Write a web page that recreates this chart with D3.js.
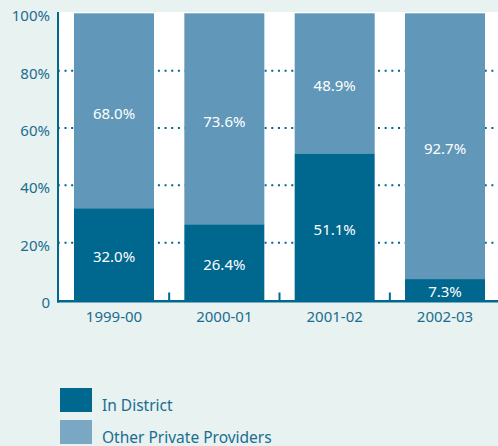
<!DOCTYPE html>
<html>
<head>
<meta charset="utf-8">
<script src="https://cdn.jsdelivr.net/npm/d3@7"></script>
<style>
  body { margin: 0; background: #e8f2f0; }
  svg { display: block; font-family: "Noto Sans", sans-serif; }
</style>
</head>
<body>
<svg id="chart" width="498" height="446"></svg>
<script>
// values
var years = ["1999-00", "2000-01", "2001-02", "2002-03"];
var inDistrict = [32.0, 26.4, 51.1, 7.3];
var otherPrivate = [68.0, 73.6, 48.9, 92.7];
var yTicks = [0, 20, 40, 60, 80, 100];
var seriesNames = ["In District", "Other Private Providers"];

var dark = "#00678f", light = "#6198b9", legendLight = "#79a7c4", ink = "#1a6d90";

var svg = d3.select("#chart");

var x = d3.scaleBand()
  .domain(years)
  .range([58, 501])
  .paddingInner(0.275)
  .paddingOuter(0.145);

var y = d3.scaleLinear()
  .domain([0, 100])
  .range([300, 13.3]);

// white plot area
svg.append("rect")
  .attr("x", 58).attr("y", 12)
  .attr("width", 440).attr("height", 288)
  .attr("fill", "#fff");

// dotted grid lines
svg.append("g")
  .selectAll("line")
  .data(yTicks.filter(function (d) { return d > 0 && d < 100; }))
  .enter().append("line")
    .attr("x1", 58).attr("x2", 498)
    .attr("y1", function (d) { return y(d); })
    .attr("y2", function (d) { return y(d); })
    .attr("stroke", dark)
    .attr("stroke-width", 2)
    .attr("stroke-dasharray", "2 4.67")
    .attr("stroke-dashoffset", -6.5);

var rows = years.map(function (yr, i) {
  return { year: yr, a: inDistrict[i], b: otherPrivate[i] };
});

var bar = svg.append("g").selectAll("g")
  .data(rows)
  .enter().append("g");

bar.append("rect")
  .attr("x", function (d) { return x(d.year); })
  .attr("width", x.bandwidth())
  .attr("y", function (d) { return y(d.a + d.b); })
  .attr("height", function (d) { return y(d.a) - y(d.a + d.b); })
  .attr("fill", light);

bar.append("rect")
  .attr("x", function (d) { return x(d.year); })
  .attr("width", x.bandwidth())
  .attr("y", function (d) { return y(d.a); })
  .attr("height", function (d) { return y(0) - y(d.a); })
  .attr("fill", dark);

// value labels
bar.append("text")
  .attr("x", function (d) { return x(d.year) + x.bandwidth() / 2; })
  .attr("y", function (d) { return (y(d.a) + y(d.a + d.b)) / 2; })
  .attr("dy", "0.53em")
  .attr("text-anchor", "middle")
  .attr("fill", "#fff")
  .style("font-size", "15px")
  .text(function (d) { return d.b.toFixed(1) + "%"; });

bar.append("text")
  .attr("x", function (d) { return x(d.year) + x.bandwidth() / 2; })
  .attr("y", function (d) { return (y(0) + y(d.a)) / 2; })
  .attr("dy", "0.53em")
  .attr("text-anchor", "middle")
  .attr("fill", "#fff")
  .style("font-size", "15px")
  .text(function (d) { return d.a.toFixed(1) + "%"; });

// y axis
var yAxis = d3.axisLeft(y)
  .tickValues(yTicks)
  .tickSize(0)
  .tickPadding(8)
  .tickFormat(function (d) { return d === 0 ? "0" : d + "%"; });

var gy = svg.append("g")
  .attr("transform", "translate(58,0)")
  .call(yAxis);
gy.select(".domain").remove();
gy.selectAll("text")
  .attr("dy", "0.5em")
  .attr("fill", ink)
  .style("font-size", "15px")
  .style("font-family", "Noto Sans");

// x axis
var xAxis = d3.axisBottom(x).tickSize(0).tickPadding(11);
var gx = svg.append("g")
  .attr("transform", "translate(0,300)")
  .call(xAxis);
gx.select(".domain").remove();
gx.selectAll("text")
  .attr("fill", ink)
  .style("font-size", "15px")
  .style("font-family", "Noto Sans");

// small ticks between the bars
svg.append("g").selectAll("line")
  .data(years.slice(1))
  .enter().append("line")
    .attr("x1", function (d) { return x(d) - x.step() * x.paddingInner() / 2; })
    .attr("x2", function (d) { return x(d) - x.step() * x.paddingInner() / 2; })
    .attr("y1", 300).attr("y2", 292.5)
    .attr("stroke", dark)
    .attr("stroke-width", 2);

// axis lines
svg.append("line")
  .attr("x1", 58).attr("x2", 58)
  .attr("y1", 12).attr("y2", 302.5)
  .attr("stroke", dark).attr("stroke-width", 2);
svg.append("line")
  .attr("x1", 57).attr("x2", 498)
  .attr("y1", 301.3).attr("y2", 301.3)
  .attr("stroke", dark).attr("stroke-width", 2.6);

// legend
var legend = svg.append("g").selectAll("g")
  .data(seriesNames)
  .enter().append("g")
    .attr("transform", function (d, i) { return "translate(60," + (388 + i * 32) + ")"; });

legend.append("rect")
  .attr("width", 32).attr("height", 24)
  .attr("fill", function (d, i) { return i === 0 ? dark : legendLight; });

legend.append("text")
  .attr("x", 42).attr("y", 18)
  .attr("dy", "0.35em")
  .attr("fill", ink)
  .style("font-size", "15.5px")
  .text(function (d) { return d; });
</script>
</body>
</html>
